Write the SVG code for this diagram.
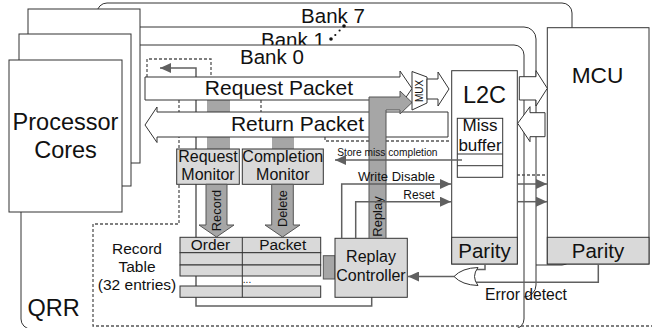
<svg xmlns="http://www.w3.org/2000/svg" width="652" height="328" viewBox="0 0 652 328">
<style>
text{font-family:"Liberation Sans",Arial,sans-serif;fill:#111}
.box{fill:#fff;stroke:#333;stroke-width:1}
.lt{fill:#d9d9d9;stroke:#333;stroke-width:1}
.md{fill:#a6a6a6;stroke:#555;stroke-width:1}
.dash{fill:none;stroke:#555;stroke-width:1.3;stroke-dasharray:3,2}
.ln{fill:none;stroke:#606060;stroke-width:1.5}
.ah{fill:#606060;stroke:none}
.c{text-anchor:middle}
</style>
<defs>
<marker id="arr" markerWidth="12" markerHeight="10" refX="11" refY="5" orient="auto" markerUnits="userSpaceOnUse">
<path d="M0,0 L11,5 L0,10 Z" fill="#606060"/>
</marker>
</defs>

<g id="bank7">
<rect x="97" y="3" width="475" height="262" rx="10" class="box"/>
<text x="333" y="22.5" class="c" font-size="20.5">Bank 7</text>
</g>
<g id="mcu">
<rect x="547.3" y="27.7" width="101.7" height="236.3" class="box"/>
<rect x="547.3" y="237.3" width="101.7" height="26.7" class="lt"/>
<text x="597.5" y="82.5" class="c" font-size="22.7">MCU</text>
<text x="598" y="257.5" class="c" font-size="20.5">Parity</text>
</g>
<g id="bank1">
<rect x="110" y="27" width="426" height="270" rx="12" class="box"/>
<text x="261" y="46.5" font-size="20.5">Bank 1</text>
<circle cx="331" cy="39" r="1.8" fill="#111"/>
<circle cx="335.3" cy="35" r="1.1" fill="#111"/>
<circle cx="339.6" cy="30.5" r="1.1" fill="#111"/>
<circle cx="344" cy="26" r="1.8" fill="#111"/>
</g>
<g id="bank0">
<rect x="21" y="45" width="503" height="284" rx="10" class="box"/>
<text x="240" y="63.5" font-size="20.5">Bank 0</text>
<text x="27.5" y="315.5" font-size="23.5">QRR</text>
</g>
<g id="cores">
<rect x="28" y="9" width="112" height="154" class="box"/>
<rect x="19" y="34" width="112" height="152" class="box"/>
<rect x="9" y="60" width="113" height="152" class="box"/>
<text x="65.5" y="129.5" class="c" font-size="23.5">Processor</text>
<text x="65.5" y="158" class="c" font-size="23.5">Cores</text>
</g>

<g id="connectors">
<path class="dash" d="M147,77 V59 H211 V77"/>
<path class="dash" d="M179,100 V224 H93 V326 H652"/>
<path class="dash" d="M261,100 V112"/>
<path class="dash" d="M325,137 V141 H451"/>
<path class="dash" d="M517,175 H547"/>
<path class="ln" d="M371.7,297 V306 H196 V68 H160" marker-end="url(#arr)"/>
<rect x="207" y="100" width="23" height="49" fill="#a6a6a6"/>
<rect x="272" y="136" width="22" height="13" fill="#a6a6a6"/>
</g>

<g id="request-packet">
<path class="box" d="M145,77 H400 V71 L412,88.5 L400,106 V100 H145 Z"/>
<text x="279" y="94.5" class="c" font-size="21">Request Packet</text>
</g>
<g id="return-packet">
<path class="box" d="M448,112 H157 V107 L145,125 L157,142.5 V137 H448 Z"/>
<text x="297.5" y="131" class="c" font-size="21">Return Packet</text>
</g>

<g id="request-monitor">
<rect x="176.7" y="149" width="62.6" height="35.3" class="lt"/>
<text x="208" y="162" class="c" font-size="16">Request</text>
<text x="208" y="180" class="c" font-size="16">Monitor</text>
</g>
<g id="completion-monitor">
<rect x="242.3" y="149" width="81" height="35.3" class="lt"/>
<text x="282.8" y="162" class="c" font-size="16">Completion</text>
<text x="282.8" y="180" class="c" font-size="16">Monitor</text>
</g>
<g id="record-arrow">
<path class="md" d="M206,184.3 V225 H199 L216.5,237 L234,225 H227 V184.3 Z"/>
<text transform="translate(221,210.5) rotate(-90)" class="c" font-size="12.8">Record</text>
</g>
<g id="delete-arrow">
<path class="md" d="M271.7,184.3 V225 H265 L282.5,237 L300,225 H293.3 V184.3 Z"/>
<text transform="translate(287,208.5) rotate(-90)" class="c" font-size="12.8">Delete</text>
</g>
<g id="record-table">
<rect x="180" y="237.3" width="140.7" height="15.4" class="lt"/>
<rect x="180" y="252.7" width="140.7" height="12.3" class="lt"/>
<rect x="180" y="265" width="140.7" height="11" class="lt"/>
<rect x="180" y="286" width="140.7" height="11.3" class="lt"/>
<path d="M242.3,237.3 V297.3" stroke="#333" stroke-width="1"/>
<text x="210.5" y="249.5" class="c" font-size="15.4">Order</text>
<text x="282.7" y="249.5" class="c" font-size="15.4">Packet</text>
<text x="247" y="283" class="c" font-size="10">...</text>
<text x="137" y="254" class="c" font-size="15.5">Record</text>
<text x="137" y="271.7" class="c" font-size="15.5">Table</text>
<text x="137" y="290" class="c" font-size="15.5">(32 entries)</text>
</g>
<g id="replay-controller">
<rect x="323.3" y="255.7" width="11.7" height="23.3" class="md"/>
<rect x="335" y="238.3" width="72.3" height="59" class="lt"/>
<text x="371" y="261.7" class="c" font-size="16">Replay</text>
<text x="371" y="280.7" class="c" font-size="16">Controller</text>
</g>
<g id="replay-arrow">
<path class="md" d="M369,238.3 V97 H400 V91 L412,102.5 L400,114 V110 H386 V238.3 Z"/>
<text transform="translate(382,216.5) rotate(-90)" class="c" font-size="13">Replay</text>
</g>
<g id="mux">
<path class="box" d="M412,71.5 L427,77 V103 L412,110 Z"/>
<text transform="translate(423,91) rotate(-90)" class="c" font-size="10">MUX</text>
<path class="box" d="M427,79 H438 V72 L449,89 L438,106 V99 H427 Z"/>
</g>
<g id="l2c">
<rect x="451.7" y="70.7" width="65.6" height="193.3" class="box"/>
<rect x="451.7" y="237.3" width="65.6" height="26.7" class="lt"/>
<text x="484.5" y="102.5" class="c" font-size="23.5">L2C</text>
<text x="484.5" y="257.5" class="c" font-size="20.5">Parity</text>
<rect x="457.3" y="118.3" width="45.4" height="59" class="box"/>
<path d="M457.3,154 H502.7 M457.3,165.7 H502.7" stroke="#333" stroke-width="1"/>
<text x="480" y="131" class="c" font-size="17">Miss</text>
<text x="480" y="150.5" class="c" font-size="17">buffer</text>
</g>

<g id="signals">
<text x="337.3" y="156" font-size="10.2">Store miss completion</text>
<path class="ln" d="M462,160 H335" marker-end="url(#arr)"/>
<path class="ln" d="M341.7,238.3 V184 H451" marker-end="url(#arr)"/>
<path class="ln" d="M355.7,238.3 V201.7 H451" marker-end="url(#arr)"/>
<path class="ln" d="M517.3,184 H547" marker-end="url(#arr)"/>
<path class="ln" d="M517.3,201.7 H547" marker-end="url(#arr)"/>
<text x="358" y="180.5" font-size="13">Write Disable</text>
<text x="403.3" y="199" font-size="12">Reset</text>
</g>
<g id="l2c-mcu-arrows">
<path class="box" d="M519.3,76.7 H536 V70.7 L547.3,88.3 L536,106 V100 H519.3 Z"/>
<path class="box" d="M545,112.7 H530 V106.7 L517.7,123.3 L530,141.7 V136.7 H545 Z"/>
</g>
<g id="error-detect">
<path class="ln" d="M485,264 V269.5 H476"/>
<path class="ln" d="M598.3,264 V282.3 H476"/>
<path d="M478,267.5 Q471,276.5 478,285.5 Q462,285 454,276.5 Q462,268 478,267.5 Z" fill="#fff" stroke="#333" stroke-width="1"/>
<path class="ln" d="M454,276.5 H408" marker-end="url(#arr)"/>
<text x="485" y="300" font-size="15.7">Error detect</text>
</g>
</svg>
